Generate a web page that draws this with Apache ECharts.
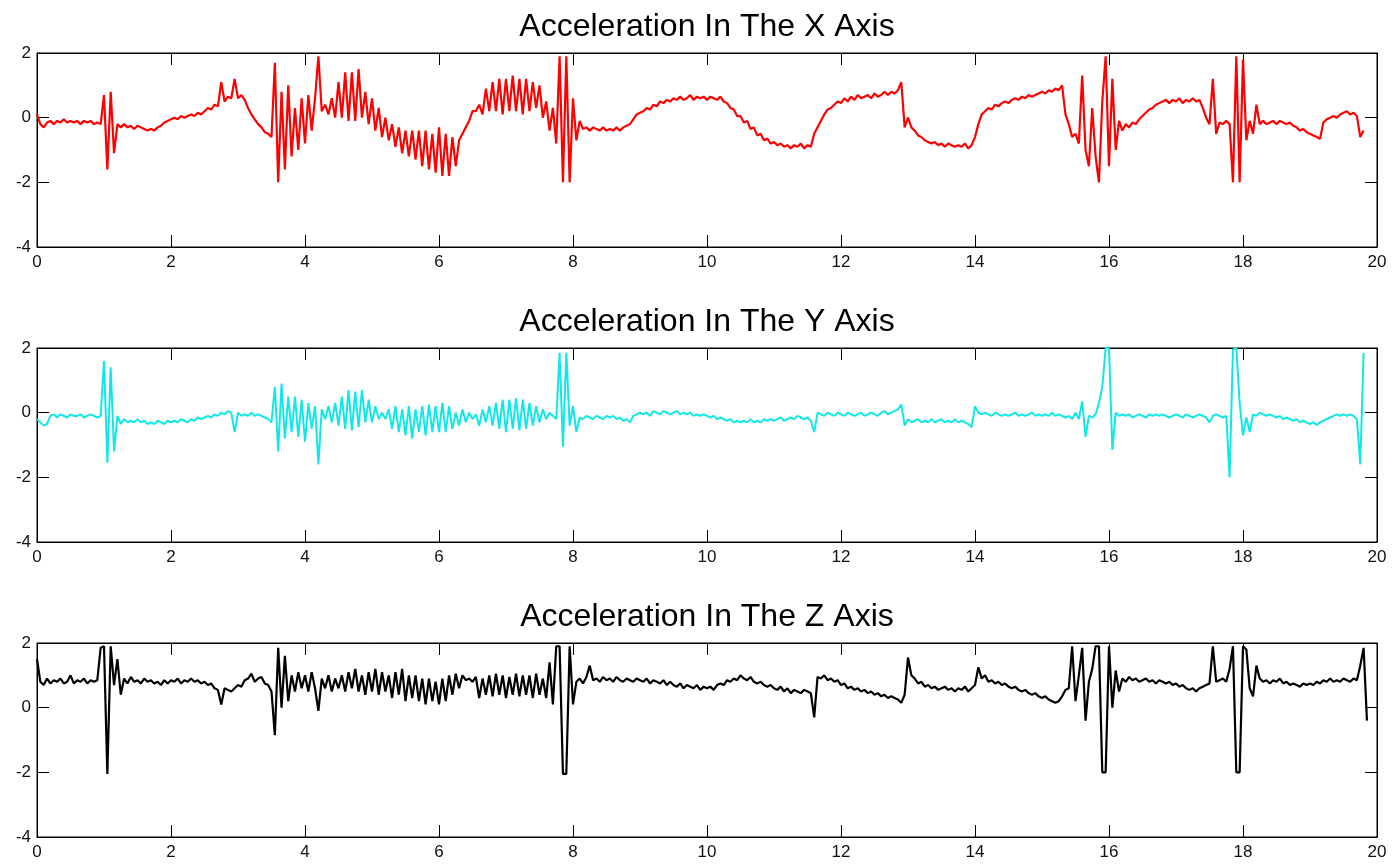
<!DOCTYPE html>
<html><head><meta charset="utf-8">
<script src="https://cdn.jsdelivr.net/npm/echarts@6/dist/echarts.min.js"></script>
<style>html,body{margin:0;padding:0;background:#fff}#c{width:1397px;height:866px}</style>
</head><body><div id="c"></div>
<script>
// sampling step of the recording (seconds)
const DT = 0.05;
const titles = ['Acceleration In The X Axis', 'Acceleration In The Y Axis', 'Acceleration In The Z Axis'];
const colors = ['#ff0000', '#10e8e8', '#000000'];
const xTicks = [0, 2, 4, 6, 8, 10, 12, 14, 16, 18, 20];
const yTicks = [-4, -2, 0, 2];

// values, one row per second
const xAccel = [
0.1,-0.2,-0.3,-0.15,-0.1,-0.2,-0.1,-0.15,-0.05,-0.15,-0.1,-0.15,-0.1,-0.2,-0.1,-0.15,-0.1,-0.2,-0.15,-0.2,
0.7,-1.6,0.8,-1.1,-0.2,-0.3,-0.2,-0.3,-0.25,-0.35,-0.25,-0.3,-0.35,-0.4,-0.35,-0.4,-0.3,-0.25,-0.15,-0.1,
-0.05,0.0,-0.05,0.05,0.0,0.05,0.1,0.05,0.15,0.1,0.2,0.3,0.25,0.4,0.35,1.1,0.5,0.65,0.6,1.2,
0.6,0.7,0.55,0.3,0.1,-0.05,-0.2,-0.3,-0.45,-0.5,-0.6,1.7,-2.0,0.8,-1.6,1.0,-1.2,0.3,-1.0,0.6,
-0.8,0.7,-0.4,0.6,1.9,0.2,0.4,0.1,0.6,0.0,1.1,0.0,1.4,-0.1,1.4,-0.1,1.5,0.0,0.8,-0.2,
0.6,-0.4,0.3,-0.6,0.0,-0.7,-0.2,-0.9,-0.3,-1.1,-0.4,-1.2,-0.4,-1.3,-0.4,-1.5,-0.4,-1.6,-0.5,-1.7,
-0.3,-1.8,-0.5,-1.8,-0.6,-1.5,-0.7,-0.5,-0.3,-0.1,0.2,0.2,0.4,0.1,0.9,0.2,1.1,0.2,1.2,0.1,
1.2,0.2,1.3,0.2,1.2,0.1,1.2,0.2,1.1,0.3,1.0,0.0,0.5,-0.4,0.3,-0.8,1.9,-2.0,1.9,-2.0,
0.6,-0.7,-0.1,-0.35,-0.3,-0.4,-0.3,-0.35,-0.4,-0.3,-0.4,-0.35,-0.4,-0.3,-0.4,-0.3,-0.25,-0.2,-0.05,0.1,
0.15,0.2,0.3,0.25,0.4,0.35,0.5,0.45,0.55,0.5,0.6,0.55,0.65,0.55,0.6,0.7,0.55,0.65,0.6,0.65,
0.55,0.65,0.6,0.55,0.65,0.5,0.45,0.3,0.25,0.05,0.05,-0.15,-0.1,-0.35,-0.3,-0.55,-0.5,-0.7,-0.65,-0.8,
-0.75,-0.85,-0.8,-0.9,-0.85,-0.95,-0.85,-0.9,-0.8,-0.95,-0.85,-0.9,-0.5,-0.3,-0.1,0.1,0.25,0.3,0.4,0.5,
0.45,0.6,0.5,0.65,0.55,0.7,0.6,0.65,0.7,0.6,0.75,0.65,0.7,0.8,0.7,0.8,0.75,0.85,1.1,-0.3,
0.0,-0.3,-0.4,-0.55,-0.6,-0.7,-0.75,-0.8,-0.75,-0.85,-0.8,-0.9,-0.8,-0.85,-0.9,-0.85,-0.9,-0.8,-0.95,-0.85,
-0.6,-0.2,0.1,0.2,0.3,0.25,0.4,0.35,0.45,0.5,0.45,0.55,0.6,0.55,0.65,0.6,0.7,0.65,0.7,0.75,
0.8,0.75,0.85,0.8,0.9,0.85,1.0,0.1,-0.2,-0.6,-0.5,-0.8,1.3,-1.0,-1.5,0.3,-1.2,-2.0,0.5,1.9,
-1.5,1.2,-1.0,-0.1,-0.4,-0.2,-0.3,-0.15,-0.2,-0.05,0.05,0.15,0.25,0.3,0.4,0.45,0.5,0.55,0.45,0.55,
0.5,0.6,0.45,0.55,0.5,0.6,0.5,0.55,0.3,0.0,-0.2,1.2,-0.5,-0.15,-0.2,-0.1,-0.2,-2.0,1.9,-2.0,
1.8,-0.7,-0.1,-0.5,0.4,-0.2,-0.1,-0.2,-0.15,-0.1,-0.2,-0.1,-0.15,-0.2,-0.15,-0.25,-0.3,-0.4,-0.35,-0.45,
-0.5,-0.55,-0.6,-0.65,-0.15,-0.05,0.0,0.05,0.0,0.1,0.15,0.2,0.1,0.15,0.05,-0.6,-0.4
];

const yAccel = [
-0.2,-0.3,-0.4,-0.35,-0.1,-0.05,-0.15,-0.05,-0.1,-0.15,-0.05,-0.1,-0.1,-0.05,-0.15,-0.1,-0.05,-0.1,-0.15,-0.1,
1.6,-1.55,1.4,-1.2,-0.1,-0.35,-0.2,-0.3,-0.25,-0.3,-0.2,-0.3,-0.25,-0.35,-0.3,-0.35,-0.25,-0.3,-0.35,-0.25,
-0.3,-0.25,-0.3,-0.2,-0.25,-0.3,-0.2,-0.25,-0.15,-0.2,-0.15,-0.1,-0.15,-0.05,-0.1,0.0,-0.05,0.05,0.0,-0.6,
0.0,-0.1,-0.05,-0.1,0.0,-0.1,-0.05,-0.1,-0.15,-0.2,-0.3,0.8,-1.2,0.9,-0.8,0.5,-0.6,0.5,-0.75,0.4,
-0.9,0.3,-0.5,0.2,-1.6,0.1,-0.2,0.2,-0.3,0.3,-0.4,0.5,-0.5,0.7,-0.55,0.65,-0.45,0.7,-0.3,0.4,
-0.3,0.2,-0.2,0.0,-0.2,0.1,-0.5,0.2,-0.6,0.1,-0.7,0.2,-0.8,0.1,-0.6,0.2,-0.7,0.25,-0.6,0.2,
-0.6,0.3,-0.6,0.2,-0.5,0.0,-0.4,0.1,-0.3,0.0,-0.2,-0.05,-0.4,0.1,-0.3,0.2,-0.4,0.3,-0.5,0.4,
-0.6,0.4,-0.5,0.45,-0.55,0.4,-0.5,0.3,-0.4,0.2,-0.3,0.1,-0.2,0.0,-0.1,-0.2,1.85,-1.05,1.85,-0.4,
0.2,-0.6,-0.15,-0.2,-0.1,-0.15,-0.2,-0.1,-0.15,-0.2,-0.1,-0.15,-0.1,-0.2,-0.15,-0.25,-0.2,-0.3,-0.1,-0.05,
0.0,-0.05,0.0,-0.1,0.05,0.0,-0.05,0.05,0.0,-0.05,0.0,0.05,-0.05,0.0,-0.05,0.0,-0.1,-0.05,-0.1,-0.05,
-0.1,-0.15,-0.1,-0.2,-0.15,-0.2,-0.25,-0.2,-0.3,-0.25,-0.3,-0.25,-0.3,-0.2,-0.3,-0.25,-0.3,-0.2,-0.25,-0.2,
-0.25,-0.2,-0.15,-0.25,-0.2,-0.15,-0.2,-0.1,-0.15,-0.2,-0.15,-0.25,-0.6,0.0,-0.05,-0.1,0.0,-0.05,-0.1,0.0,
-0.05,-0.1,0.0,-0.05,-0.1,-0.05,0.0,-0.1,-0.05,0.0,-0.05,-0.1,0.0,0.05,-0.05,0.0,0.05,0.1,0.25,-0.4,
-0.2,-0.3,-0.25,-0.2,-0.3,-0.25,-0.3,-0.2,-0.3,-0.25,-0.2,-0.3,-0.25,-0.3,-0.2,-0.3,-0.25,-0.3,-0.35,-0.45,
0.2,0.0,-0.05,0.0,-0.05,-0.1,0.0,-0.05,-0.1,-0.05,-0.1,-0.05,0.0,-0.1,-0.05,-0.1,-0.05,0.0,-0.1,-0.05,
-0.1,-0.05,-0.1,0.0,-0.1,-0.05,-0.1,-0.15,-0.1,-0.2,0.0,-0.2,0.35,-0.75,-0.1,-0.15,-0.05,0.3,0.8,2.0,
2.0,-1.15,0.0,-0.1,-0.05,-0.1,-0.05,-0.15,-0.1,-0.05,-0.1,-0.15,-0.05,-0.1,-0.05,-0.1,-0.05,-0.1,-0.15,-0.1,
-0.05,-0.1,-0.15,-0.05,-0.1,-0.15,-0.1,-0.05,-0.1,-0.15,-0.3,-0.1,-0.05,-0.1,-0.15,-0.1,-2.0,1.95,2.0,0.3,
-0.7,-0.15,-0.6,-0.05,-0.1,0.0,-0.05,-0.1,-0.05,-0.1,-0.15,-0.1,-0.2,-0.15,-0.2,-0.25,-0.2,-0.3,-0.25,-0.3,
-0.35,-0.3,-0.38,-0.3,-0.25,-0.2,-0.15,-0.1,-0.05,-0.1,-0.05,-0.1,-0.05,-0.1,-0.2,-1.6,1.85
];

const zAccel = [
1.5,0.8,0.7,0.9,0.75,0.85,0.8,0.9,0.75,0.8,1.0,0.75,0.85,0.8,0.9,0.75,0.85,0.8,0.85,1.85,
1.9,-2.05,1.9,0.7,1.5,0.4,0.9,0.75,0.95,0.8,0.85,0.75,0.9,0.8,0.85,0.75,0.8,0.7,0.85,0.75,
0.85,0.8,0.9,0.75,0.85,0.8,0.9,0.8,0.85,0.75,0.8,0.7,0.75,0.6,0.55,0.1,0.6,0.55,0.5,0.6,
0.7,0.65,0.85,0.9,1.05,0.8,0.9,0.95,0.75,0.7,0.5,-0.85,1.85,0.0,1.6,0.2,1.0,0.5,1.1,0.6,
1.0,0.5,1.1,0.6,-0.1,0.9,0.6,1.0,0.5,0.9,0.6,1.0,0.5,1.1,0.6,1.2,0.5,1.0,0.4,1.1,
0.5,1.2,0.4,1.1,0.5,1.0,0.3,1.1,0.4,1.2,0.2,1.0,0.3,1.0,0.2,0.9,0.1,0.9,0.2,0.8,
0.1,0.9,0.2,1.0,0.4,1.05,0.6,1.0,0.85,0.9,0.8,0.95,0.3,0.9,0.4,1.0,0.35,1.05,0.4,1.0,
0.3,0.95,0.4,1.05,0.35,1.0,0.4,1.0,0.3,1.05,0.4,0.9,0.3,1.4,0.1,1.9,1.9,-2.05,-2.05,1.9,
0.1,0.8,0.9,0.75,0.95,1.3,0.85,0.9,0.8,0.95,0.85,0.9,0.8,0.95,0.85,0.8,0.9,0.85,0.8,0.9,
0.85,0.8,0.9,0.75,0.85,0.8,0.75,0.85,0.7,0.8,0.7,0.65,0.75,0.6,0.7,0.65,0.6,0.7,0.55,0.65,
0.6,0.65,0.55,0.7,0.75,0.7,0.85,0.8,0.9,0.85,1.0,0.9,0.85,0.95,0.8,0.75,0.8,0.7,0.65,0.7,
0.6,0.55,0.65,0.5,0.6,0.45,0.55,0.5,0.45,0.55,0.5,0.45,-0.3,0.95,0.9,1.0,0.85,0.9,0.8,0.85,
0.7,0.75,0.6,0.65,0.55,0.6,0.5,0.55,0.45,0.5,0.4,0.45,0.35,0.4,0.3,0.35,0.3,0.25,0.15,0.4,
1.55,1.0,0.9,0.75,0.8,0.65,0.7,0.6,0.65,0.55,0.6,0.65,0.55,0.6,0.5,0.6,0.55,0.65,0.5,0.6,
0.7,1.25,0.9,1.0,0.8,0.85,0.75,0.8,0.7,0.75,0.65,0.6,0.65,0.55,0.5,0.55,0.45,0.4,0.45,0.35,
0.3,0.35,0.25,0.2,0.15,0.2,0.35,0.55,0.6,1.9,0.2,1.0,1.85,-0.4,0.8,1.2,1.9,1.9,-2.0,-2.0,
1.9,0.0,1.15,0.5,0.9,0.8,0.95,0.85,0.9,0.8,0.85,0.9,0.8,0.85,0.75,0.85,0.8,0.75,0.8,0.7,
0.75,0.65,0.7,0.6,0.55,0.6,0.5,0.6,0.65,0.7,0.75,1.9,0.8,0.85,0.9,0.8,1.2,1.9,-2.0,-2.0,
1.9,1.8,0.6,0.35,1.3,0.9,0.8,0.85,0.75,0.85,0.8,0.9,0.75,0.8,0.7,0.75,0.7,0.65,0.75,0.7,
0.75,0.7,0.8,0.75,0.85,0.8,0.9,0.8,0.85,0.8,0.9,0.85,0.8,0.9,0.85,1.3,1.85,-0.4
];

const seriesValues = [xAccel, yAccel, zAccel];
const lineWidths = [2.2, 2, 2.2];
const chart = echarts.init(document.getElementById('c'), null, {renderer: 'canvas'});
const FONT = '"Liberation Sans", Arial, Helvetica, sans-serif';
const gridTops = [53, 348, 643];
const GL = 37, GW = 1340, GH = 194;

const grid = [], xAxis = [], yAxis = [], series = [], graphic = [];
gridTops.forEach((top, i) => {
  grid.push({left: GL, top: top, width: GW, height: GH, show: true, borderColor: '#000', borderWidth: 1, backgroundColor: '#fff'});
  const tick = {show: true, inside: true, length: 12, lineStyle: {color: '#000', width: 1}};
  const line = {show: true, onZero: false, lineStyle: {color: '#000', width: 1}};
  const xBase = {type: 'value', gridIndex: i, min: xTicks[0], max: xTicks[xTicks.length - 1], interval: 2,
    axisLine: line, axisTick: tick, splitLine: {show: false}};
  xAxis.push(Object.assign({}, xBase, {position: 'bottom',
    axisLabel: {show: true, color: '#111', fontSize: 17, fontFamily: FONT, margin: 7, showMinLabel: true, showMaxLabel: true}}));
  xAxis.push(Object.assign({}, xBase, {position: 'top', axisLabel: {show: false}}));
  const yBase = {type: 'value', gridIndex: i, min: yTicks[0], max: yTicks[yTicks.length - 1], interval: 2,
    axisLine: line, axisTick: tick, splitLine: {show: false}};
  yAxis.push(Object.assign({}, yBase, {position: 'left',
    axisLabel: {show: true, color: '#111', fontSize: 17, fontFamily: FONT, margin: 6, showMinLabel: true, showMaxLabel: true}}));
  yAxis.push(Object.assign({}, yBase, {position: 'right', axisLabel: {show: false}}));
  series.push({
    type: 'line', xAxisIndex: 2 * i, yAxisIndex: 2 * i,
    data: seriesValues[i].map((v, k) => [k * DT, v]),
    showSymbol: false, symbol: 'none', sampling: null, smooth: false,
    lineStyle: {color: colors[i], width: lineWidths[i]}, itemStyle: {color: colors[i]},
    clip: true, animation: false
  });
  graphic.push({type: 'text', x: GL + GW / 2, y: top - 42,
    style: {text: titles[i], fill: '#000', font: '32px ' + FONT, textAlign: 'center', textVerticalAlign: 'top'}});
});

chart.setOption({animation: false, backgroundColor: '#fff', grid, xAxis, yAxis, series, graphic});
</script>
</body></html>
